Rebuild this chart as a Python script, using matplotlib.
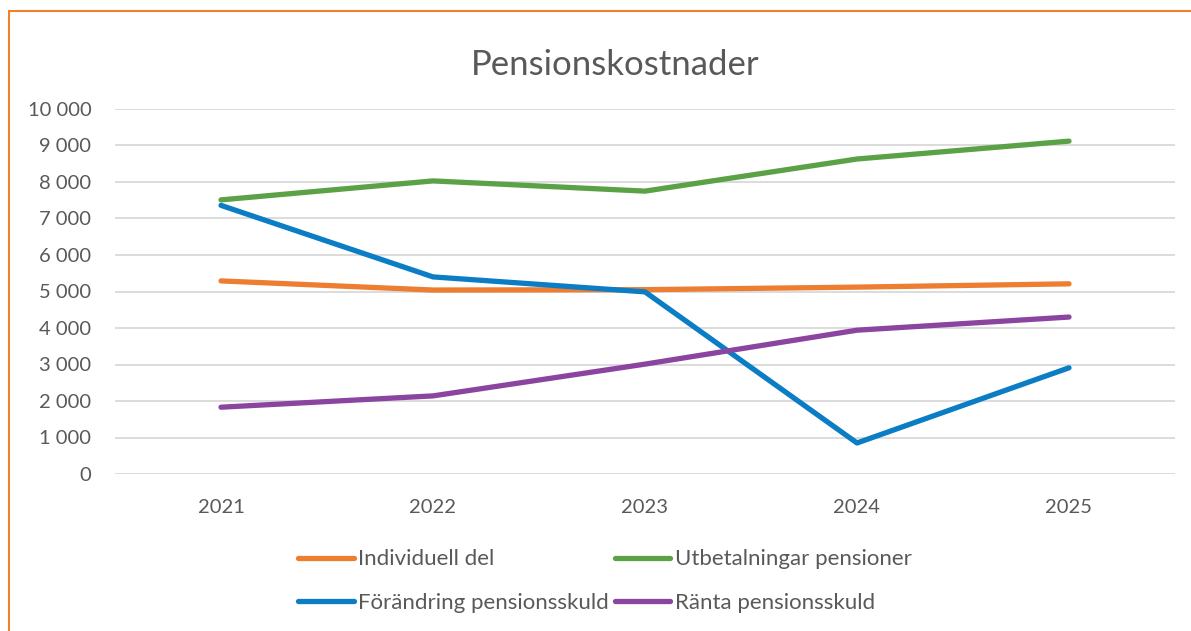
import matplotlib.pyplot as plt
from matplotlib.ticker import FuncFormatter
from matplotlib.patches import Rectangle

years = ['2021', '2022', '2023', '2024', '2025']
individuell = [5290, 5040, 5050, 5120, 5210]
utbetalningar = [7510, 8030, 7750, 8630, 9120]
forandring = [7360, 5400, 4990, 850, 2910]
ranta = [1830, 2140, 3010, 3940, 4300]

series = [
    ('Individuell del', individuell, '#ED7D31'),
    ('Utbetalningar pensioner', utbetalningar, '#5BA246'),
    ('Förändring pensionsskuld', forandring, '#0A7DC5'),
    ('Ränta pensionsskuld', ranta, '#8B45A0'),
]

plt.rcParams['font.family'] = ['Lato', 'DejaVu Sans']
txt = '#595959'

fig = plt.figure(figsize=(11.91, 6.31), dpi=100)
ax = fig.add_axes([115 / 1191, 1 - 474 / 631, 1060 / 1191, 365 / 631])

x = range(len(years))
lines = {}
for name, vals, col in series:
    lines[name], = ax.plot(x, vals, color=col, lw=3.8, label=name,
                           solid_capstyle='round', solid_joinstyle='round')

ax.set_xlim(-0.5, len(years) - 0.5)
ax.set_ylim(0, 10000)
ax.set_yticks(range(0, 10001, 1000))
ax.yaxis.set_major_formatter(FuncFormatter(lambda v, p: f'{int(v):,}'.replace(',', ' ')))
ax.set_xticks(list(x))
ax.set_xticklabels(years)
ax.grid(axis='y', color='#d9d9d9', lw=1.3)
ax.set_axisbelow(True)
for s in ax.spines.values():
    s.set_visible(False)
ax.tick_params(length=0, labelsize=14.5, colors=txt)
ax.tick_params(axis='y', pad=17)
ax.tick_params(axis='x', pad=18)

fig.text(615 / 1191, 1 - 65 / 631, 'Pensionskostnader', ha='center', va='center', fontsize=25, color=txt)

# legend is filled column by column, so order entries to read row by row
order = ['Individuell del', 'Förändring pensionsskuld', 'Utbetalningar pensioner', 'Ränta pensionsskuld']
fig.legend([lines[n] for n in order], order, loc='center', bbox_to_anchor=(605 / 1191, 1 - 581 / 631),
           ncol=2, frameon=False, fontsize=16, labelcolor=txt, handlelength=2.5, handletextpad=0.2,
           columnspacing=0.27, labelspacing=1.05)

# chart frame (cut off on the right and bottom)
fig.patches.append(Rectangle((9 / 1191, -0.1), 1.2, 1 - 11 / 631 + 0.1, transform=fig.transFigure,
                             fill=False, edgecolor='#F08030', lw=1.5))

fig.savefig('out.png', dpi=100)
